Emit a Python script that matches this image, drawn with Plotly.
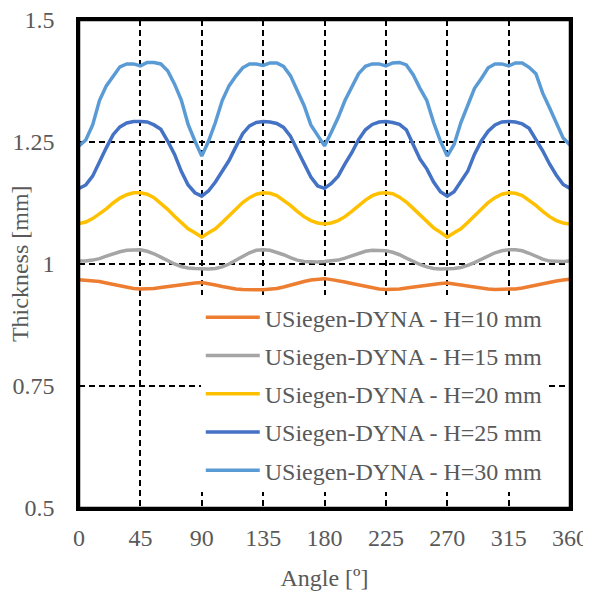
import plotly.graph_objects as go

angles = list(range(0, 361, 5))

h10 = [0.968, 0.967, 0.966, 0.964, 0.961, 0.958, 0.955, 0.952, 0.950, 0.949, 0.949, 0.950, 0.952, 0.954, 0.956, 0.958, 0.959, 0.961, 0.962,
       0.960, 0.957, 0.954, 0.951, 0.949, 0.948, 0.947, 0.947, 0.947, 0.948, 0.950, 0.953, 0.957, 0.961, 0.964, 0.967, 0.969, 0.970,
       0.968, 0.966, 0.963, 0.960, 0.957, 0.954, 0.951, 0.949, 0.948, 0.948, 0.949, 0.951, 0.953, 0.955, 0.957, 0.959, 0.960, 0.961,
       0.959, 0.957, 0.954, 0.952, 0.950, 0.949, 0.948, 0.948, 0.948, 0.949, 0.951, 0.954, 0.957, 0.960, 0.963, 0.965, 0.967, 0.969]

h15 = [1.006, 1.006, 1.008, 1.011, 1.016, 1.021, 1.025, 1.028, 1.029, 1.029, 1.026, 1.021, 1.014, 1.006, 1.000, 0.995, 0.992, 0.991, 0.990,
       0.990, 0.991, 0.994, 1.000, 1.008, 1.016, 1.023, 1.028, 1.029, 1.028, 1.024, 1.019, 1.013, 1.008, 1.005, 1.004, 1.004, 1.005,
       1.006, 1.008, 1.012, 1.017, 1.022, 1.026, 1.028, 1.028, 1.027, 1.024, 1.019, 1.012, 1.005, 0.999, 0.994, 0.991, 0.990, 0.990,
       0.991, 0.993, 0.997, 1.003, 1.010, 1.017, 1.023, 1.027, 1.029, 1.029, 1.027, 1.022, 1.016, 1.010, 1.006, 1.005, 1.005, 1.006]

h20 = [1.083, 1.086, 1.093, 1.102, 1.113, 1.125, 1.135, 1.142, 1.146, 1.146, 1.143, 1.136, 1.125, 1.112, 1.098, 1.084, 1.072, 1.064, 1.055,
       1.064, 1.072, 1.085, 1.099, 1.113, 1.126, 1.136, 1.143, 1.146, 1.145, 1.140, 1.131, 1.120, 1.108, 1.097, 1.089, 1.084, 1.082,
       1.084, 1.089, 1.097, 1.108, 1.120, 1.131, 1.140, 1.145, 1.146, 1.144, 1.137, 1.127, 1.114, 1.100, 1.086, 1.074, 1.065, 1.055,
       1.064, 1.072, 1.085, 1.099, 1.113, 1.126, 1.136, 1.143, 1.146, 1.145, 1.140, 1.131, 1.120, 1.108, 1.097, 1.089, 1.084, 1.082]

h25 = [1.155, 1.162, 1.180, 1.210, 1.238, 1.265, 1.281, 1.289, 1.292, 1.292, 1.291, 1.285, 1.276, 1.252, 1.225, 1.190, 1.162, 1.146, 1.139,
       1.150, 1.168, 1.190, 1.212, 1.240, 1.267, 1.283, 1.290, 1.292, 1.291, 1.288, 1.280, 1.262, 1.235, 1.205, 1.178, 1.160, 1.155,
       1.165, 1.180, 1.205, 1.228, 1.255, 1.275, 1.286, 1.291, 1.292, 1.290, 1.286, 1.275, 1.245, 1.215, 1.195, 1.168, 1.148, 1.139,
       1.148, 1.168, 1.190, 1.225, 1.252, 1.272, 1.285, 1.291, 1.292, 1.291, 1.287, 1.278, 1.255, 1.232, 1.205, 1.182, 1.163, 1.155]

h30 = [1.242, 1.254, 1.285, 1.335, 1.365, 1.386, 1.404, 1.410, 1.410, 1.406, 1.413, 1.413, 1.410, 1.396, 1.369, 1.336, 1.286, 1.252, 1.221,
       1.252, 1.290, 1.335, 1.365, 1.385, 1.402, 1.410, 1.410, 1.407, 1.412, 1.412, 1.405, 1.386, 1.355, 1.325, 1.285, 1.262, 1.242,
       1.270, 1.300, 1.335, 1.362, 1.390, 1.405, 1.410, 1.410, 1.406, 1.412, 1.413, 1.408, 1.388, 1.360, 1.335, 1.290, 1.252, 1.221,
       1.245, 1.290, 1.325, 1.360, 1.380, 1.402, 1.410, 1.410, 1.406, 1.412, 1.412, 1.403, 1.390, 1.350, 1.320, 1.290, 1.258, 1.244]

series_names = ["USiegen-DYNA - H=10 mm", "USiegen-DYNA - H=15 mm", "USiegen-DYNA - H=20 mm",
                "USiegen-DYNA - H=25 mm", "USiegen-DYNA - H=30 mm"]
series_values = [h10, h15, h20, h25, h30]
series_colors = ["#ED7D31", "#A5A5A5", "#FFC000", "#4472C4", "#5B9BD5"]

x_ticks = [0, 45, 90, 135, 180, 225, 270, 315, 360]
y_ticks = [0.5, 0.75, 1.0, 1.25, 1.5]
y_tick_labels = ["0.5", "0.75", "1", "1.25", "1.5"]

fig = go.Figure()
for name, vals, col in zip(series_names, series_values, series_colors):
    fig.add_trace(go.Scatter(x=angles, y=vals, mode="lines", name=name, legendgroup=name,
                             line=dict(color=col, width=3.5)))

FONT = "Liberation Serif"
fig.update_layout(
    width=591, height=592,
    margin=dict(l=71, r=29, t=12, b=92, autoexpand=False),
    paper_bgcolor="white", plot_bgcolor="white",
    font=dict(family=FONT, size=24, color="#595959"),
    showlegend=True,
    legend=dict(x=0.248, y=0.436, xanchor="left", yanchor="top", bgcolor="white",
                font=dict(family=FONT, size=24, color="#595959"),
                tracegroupgap=4, itemwidth=54),
    annotations=[dict(text="Thickness [mm]", textangle=-90, xref="paper", yref="paper",
                      x=-0.120, y=0.5, xanchor="center", yanchor="middle", showarrow=False,
                      font=dict(family=FONT, size=24, color="#595959"))],
    shapes=[dict(type="rect", xref="paper", yref="paper", x0=0, x1=1, y0=0, y1=1,
                 line=dict(color="black", width=2.5), fillcolor="rgba(0,0,0,0)", layer="above")],
)
fig.update_xaxes(range=[0, 360], tickvals=x_ticks, ticks="", showgrid=True, gridcolor="black",
                 griddash="6px,4px", gridwidth=1.5, showline=True, linecolor="black", linewidth=2.5,
                 mirror=True, zeroline=False, ticklabelstandoff=6, automargin=False,
                 ticklabeloverflow="allow",
                 title=dict(text="Angle [º]", standoff=20, font=dict(family=FONT, size=24)))
fig.update_yaxes(range=[0.5, 1.5], tickvals=y_ticks, ticktext=y_tick_labels, ticks="", showgrid=True,
                 gridcolor="black", griddash="6px,4px", gridwidth=1.5, showline=True, linecolor="black",
                 linewidth=2.5, mirror=True, zeroline=False, ticklabelstandoff=17, automargin=False,
                 ticklabeloverflow="allow")

fig.write_html("out.html")
